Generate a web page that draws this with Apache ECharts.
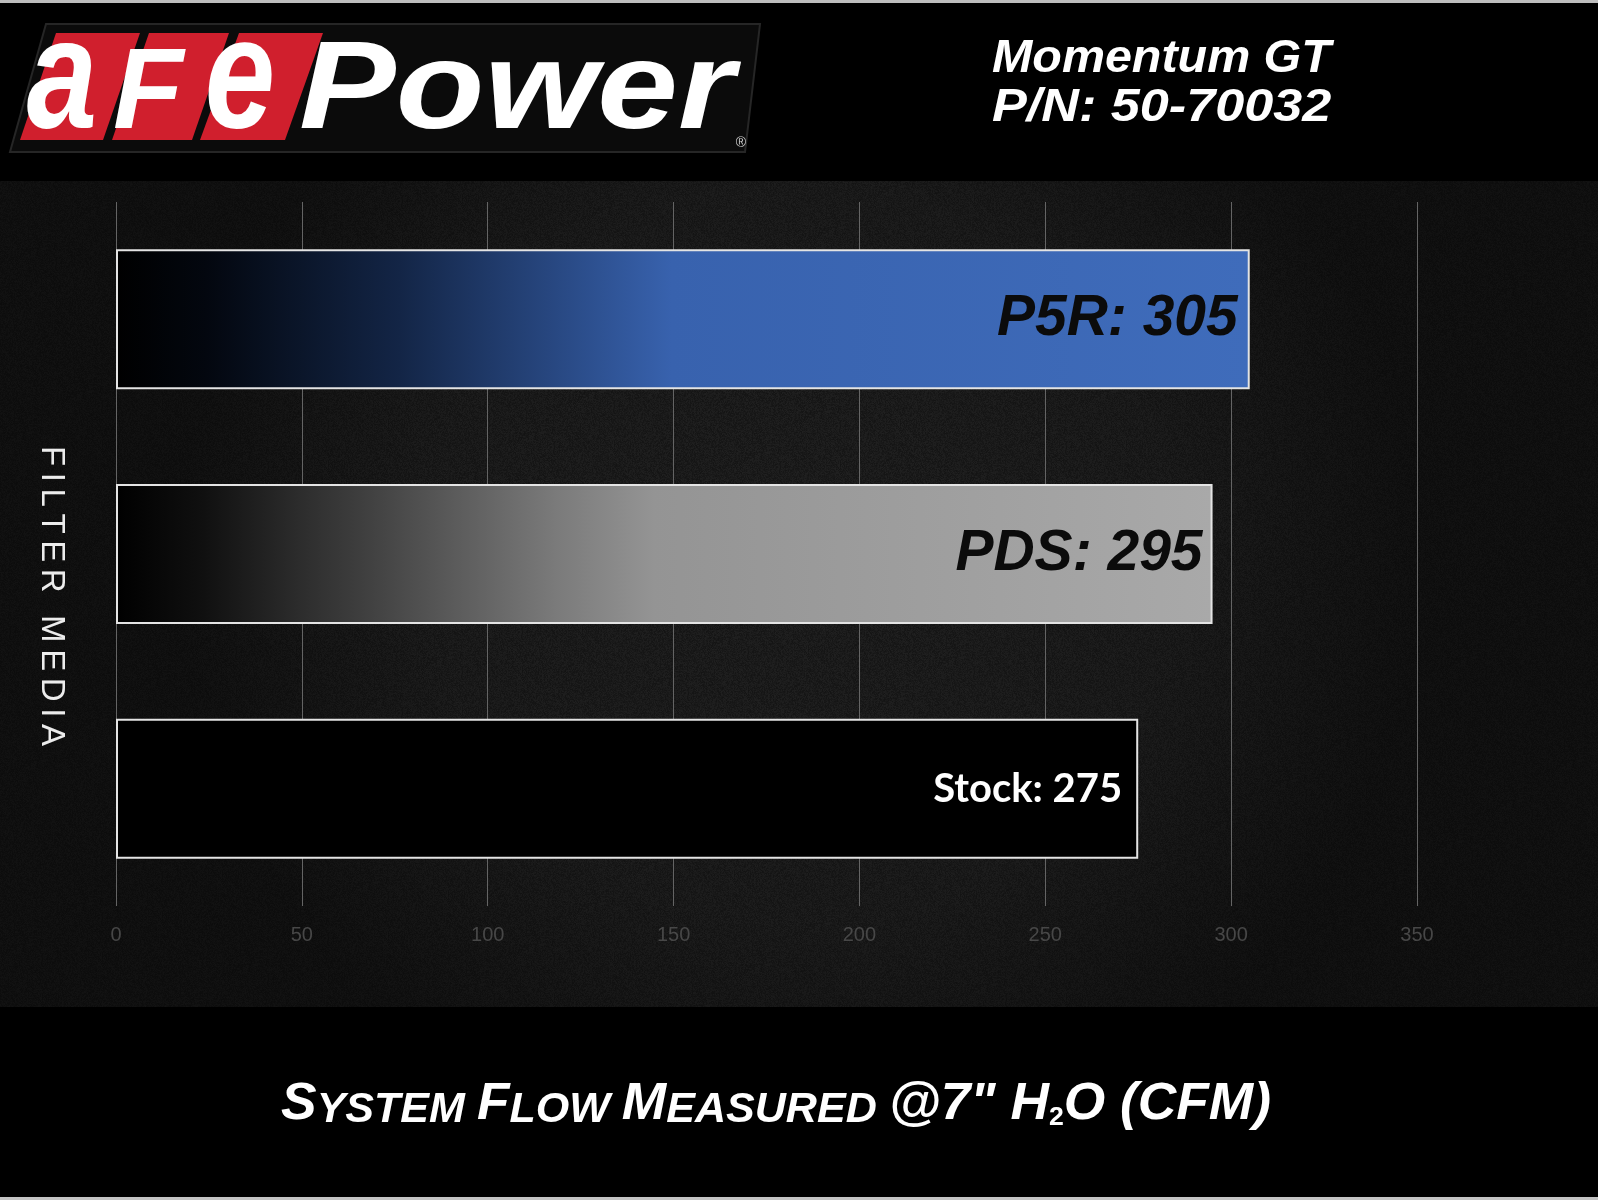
<!DOCTYPE html>
<html><head><meta charset="utf-8">
<script src="https://cdn.jsdelivr.net/npm/echarts@6/dist/echarts.min.js"></script>
<style>html,body{margin:0;padding:0;background:#000}#c{width:1598px;height:1200px}</style>
</head><body><div id="c"></div>
<script>
// ---- data ----
const categories = ['P5R', 'PDS', 'Stock'];
const flowValues = [305, 295, 275];
const xTickLabels = ['0', '50', '100', '150', '200', '250', '300', '350'];
const axisMin = 0, axisMax = 350, axisStep = 50;
const yAxisTitle = 'FILTER MEDIA';
const headerLine1 = 'Momentum GT';
const headerLine2 = 'P/N: 50-70032';

// ---- decorative texture (deterministic, not data) ----
function makeTexture() {
  const N = 512;
  const cv = document.createElement('canvas');
  cv.width = N; cv.height = N;
  const ctx = cv.getContext('2d');
  const img = ctx.createImageData(N, N);
  let s = 987654321;
  for (let i = 0; i < N * N; i++) {
    s = (s * 1103515245 + 12345) & 0x7fffffff;
    const n = ((s >> 12) & 255) / 255 - 0.5;
    const v = 27 + n * 12;
    img.data[i * 4] = v; img.data[i * 4 + 1] = v; img.data[i * 4 + 2] = v; img.data[i * 4 + 3] = 255;
  }
  ctx.putImageData(img, 0, 0);
  return cv;
}

const chart = echarts.init(document.getElementById('c'), null, { renderer: 'canvas' });
const G = echarts.graphic;

const fills = [
  new G.LinearGradient(0, 0, 1, 0, [
    { offset: 0, color: '#000000' }, { offset: 0.08, color: '#03070f' },
    { offset: 0.25, color: '#132546' }, { offset: 0.40, color: '#2a4b87' },
    { offset: 0.49, color: '#3862ae' }, { offset: 1, color: '#3f6cbb' }]),
  new G.LinearGradient(0, 0, 1, 0, [
    { offset: 0, color: '#000000' }, { offset: 0.08, color: '#101010' },
    { offset: 0.25, color: '#474747' }, { offset: 0.40, color: '#7a7a7a' },
    { offset: 0.49, color: '#949494' }, { offset: 1, color: '#a9a9a9' }]),
  '#000000'
];

const barLabels = [
  { color: '#0b0b0b', fontSize: 57, fontWeight: 'bold', fontStyle: 'italic', fontFamily: 'Liberation Sans', distance: 12 },
  { color: '#0b0b0b', fontSize: 57, fontWeight: 'bold', fontStyle: 'italic', fontFamily: 'Liberation Sans', distance: 10 },
  { color: '#ffffff', fontSize: 40, fontWeight: 'bold', fontStyle: 'normal', fontFamily: 'Lato', distance: 16 }
];

const redBoxes = [
  [[56, 33], [140, 33], [103, 140], [20, 140]],
  [[149, 33], [229, 33], [192, 140], [112, 140]],
  [[239, 33], [323, 33], [285, 140], [200, 140]]
];

const graphics = [
  { type: 'rect', z: -100, silent: true, shape: { x: 0, y: 0, width: 1598, height: 1200 }, style: { fill: '#000' } },
  { type: 'rect', z: -99, silent: true, shape: { x: 0, y: 181, width: 1598, height: 826 },
    style: { fill: { image: makeTexture(), repeat: 'repeat' } } },
  { type: 'rect', z: -98, silent: true, shape: { x: 0, y: 181, width: 1598, height: 826 },
    style: { fill: new G.RadialGradient(0.5, 0.45, 0.75, [
      { offset: 0, color: 'rgba(0,0,0,0)' }, { offset: 0.6, color: 'rgba(0,0,0,0.1)' }, { offset: 1, color: 'rgba(0,0,0,0.45)' }]) } },
  { type: 'rect', z: -97, silent: true, shape: { x: 0, y: 0, width: 1598, height: 3 }, style: { fill: '#bdbdbd' } },
  { type: 'rect', z: -97, silent: true, shape: { x: 0, y: 1197, width: 1598, height: 3 }, style: { fill: '#c4c4c4' } },
  // logo plate
  { type: 'polygon', z: 10, silent: true, shape: { points: [[46, 24], [760, 24], [745, 152], [10, 152]] },
    style: { fill: '#0b0b0b', stroke: '#262626', lineWidth: 2 } }
];
redBoxes.forEach(p => graphics.push({ type: 'polygon', z: 11, silent: true, shape: { points: p }, style: { fill: '#d01f2d' } }));
const logoLetters = [
  { t: 'a', x: 62, fs: 158, sx: 0.8 },
  { t: 'F', x: 148, fs: 115, sx: 1.0 },
  { t: 'e', x: 240, fs: 158, sx: 0.8 }
];
logoLetters.forEach(L => graphics.push({
  type: 'text', z: 12, silent: true, x: L.x, y: 132 - 0.31 * L.fs, scaleX: L.sx,
  style: { text: L.t, fill: '#fff', font: 'italic bold ' + L.fs + 'px "Liberation Sans"', textAlign: 'center', textVerticalAlign: 'middle' }
}));
graphics.push(
  { type: 'text', z: 12, silent: true, x: 299, y: 132 - 0.31 * 124, scaleX: 1.17,
    style: { text: 'Power', fill: '#fff', font: 'italic bold 124px "Liberation Sans"', textAlign: 'left', textVerticalAlign: 'middle' } },
  { type: 'text', z: 12, silent: true, x: 741, y: 143,
    style: { text: '®', fill: '#cfcfcf', font: '14px "Liberation Sans"', textAlign: 'center', textVerticalAlign: 'middle' } },
  { type: 'text', z: 12, silent: true, x: 992, y: 74 - 0.31 * 47, scaleX: 1.03,
    style: { text: headerLine1, fill: '#fff', font: 'italic bold 47px "Liberation Sans"', textAlign: 'left', textVerticalAlign: 'middle' } },
  { type: 'text', z: 12, silent: true, x: 992, y: 123 - 0.31 * 47, scaleX: 1.11,
    style: { text: headerLine2, fill: '#fff', font: 'italic bold 47px "Liberation Sans"', textAlign: 'left', textVerticalAlign: 'middle' } },
  { type: 'text', z: 12, silent: true, x: 51, y: 596, rotation: -Math.PI / 2,
    style: { text: yAxisTitle.split('').join('\u2009'), fill: '#ececec', font: '33px "Liberation Sans"', textAlign: 'center', textVerticalAlign: 'middle' } },
  { type: 'text', z: 12, silent: true, x: 776, y: 1101, scaleX: 1.025, originX: 0,
    style: {
      text: '{b|S}{s|YSTEM }{b|F}{s|LOW }{b|M}{s|EASURED }{b|@7" H}{u|2}{b|O (CFM)}',
      textAlign: 'center', textVerticalAlign: 'middle',
      rich: {
        b: { fill: '#fff', font: 'italic bold 52px "Liberation Sans"', lineHeight: 60, verticalAlign: 'bottom' },
        s: { fill: '#fff', font: 'italic bold 42px "Liberation Sans"', lineHeight: 60, verticalAlign: 'bottom' },
        u: { fill: '#fff', font: 'bold 26px "Liberation Sans"', lineHeight: 56, verticalAlign: 'bottom' }
      }
    } }
);

chart.setOption({
  animation: false,
  backgroundColor: 'transparent',
  grid: { left: 116, right: 1598 - 1417, top: 202, bottom: 1200 - 906, containLabel: false },
  xAxis: {
    type: 'value', min: axisMin, max: axisMax, interval: axisStep,
    axisLine: { show: false }, axisTick: { show: false },
    splitLine: { show: true, lineStyle: { color: '#646464', width: 1 } },
    axisLabel: { color: '#474747', fontSize: 20, fontFamily: 'Liberation Sans', margin: 19,
      formatter: (v) => xTickLabels[Math.round((v - axisMin) / axisStep)] }
  },
  yAxis: {
    type: 'category', data: categories, inverse: true,
    axisLine: { show: false }, axisTick: { show: false }, axisLabel: { show: false }, splitLine: { show: false }
  },
  series: [{
    type: 'bar', barWidth: 140,
    data: flowValues.map((v, i) => ({
      value: v,
      itemStyle: { color: fills[i], borderColor: '#e4e4e4', borderWidth: 2 },
      label: Object.assign({ show: true, position: 'insideRight', formatter: '{b}: {c}' }, barLabels[i])
    }))
  }],
  graphic: { elements: graphics }
});
</script></body></html>
